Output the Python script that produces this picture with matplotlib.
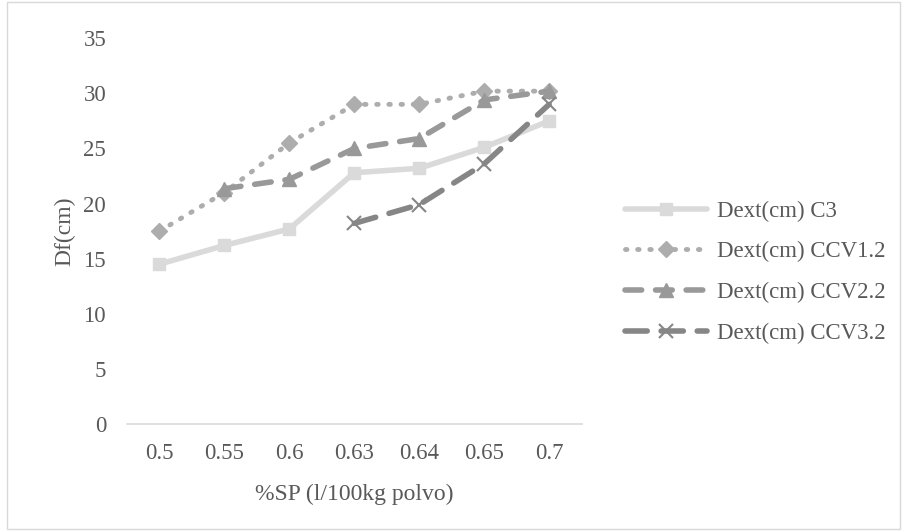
import matplotlib
matplotlib.use('Agg')
from matplotlib import pyplot as plt
from matplotlib.patches import Rectangle

# dados
categorias = ['0.5', '0.55', '0.6', '0.63', '0.64', '0.65', '0.7']
c3 = [14.5, 16.2, 17.7, 22.8, 23.2, 25.1, 27.5]
ccv12 = [17.5, 21.0, 25.5, 29.0, 29.0, 30.2, 30.2]
ccv22 = [None, 21.35, 22.2, 25.0, 25.9, 29.4, 30.2]
ccv32 = [None, None, None, 18.2, 19.9, 23.6, 29.0]
yticks = [0, 5, 10, 15, 20, 25, 30, 35]

plt.rcParams['font.family'] = ['Liberation Serif', 'DejaVu Serif']
txt = '#595959'

fig = plt.figure(figsize=(9.02, 5.31), dpi=100)
ax = fig.add_axes([0.1408, 0.2015, 0.504, 0.7265])

x = list(range(len(categorias)))

def serie(vals):
  # ignora pontos vazios
  xs = [i for i, v in zip(x, vals) if v is not None]
  ys = [v for v in vals if v is not None]
  return xs, ys

xs, ys = serie(c3)
ax.plot(xs, ys, color='#DADADA', lw=4, marker='s', ms=9, solid_capstyle='round', label='Dext(cm) C3')
xs, ys = serie(ccv12)
ax.plot(xs, ys, color='#ADADAD', lw=3.5, ls=(0, (0.3, 2.2)), dash_capstyle='round', marker='D', ms=8, label='Dext(cm) CCV1.2')
xs, ys = serie(ccv22)
ax.plot(xs, ys, color='#999999', lw=4, ls=(0, (3, 2.5)), dash_capstyle='round', marker='^', ms=10, label='Dext(cm) CCV2.2')
xs, ys = serie(ccv32)
ax.plot(xs, ys, color='#868686', lw=4, ls=(0, (4, 2.5)), dash_capstyle='round', marker='x', ms=10, mew=1.5, label='Dext(cm) CCV3.2')

ax.set_xlim(-0.5, len(categorias) - 0.5)
ax.set_ylim(0, 35)
ax.set_xticks(x)
ax.set_xticklabels(categorias)
ax.set_yticks(yticks)
ax.tick_params(axis='both', length=0, labelsize=16.5, labelcolor=txt)
ax.tick_params(axis='y', pad=15)
ax.tick_params(axis='x', pad=14)
for s in ['top', 'right', 'left']:
  ax.spines[s].set_visible(False)
ax.spines['bottom'].set_color('#D9D9D9')
ax.spines['bottom'].set_linewidth(1.2)

ax.set_xlabel('%SP (l/100kg polvo)', fontsize=17, color=txt, labelpad=14)
ax.set_ylabel('Df(cm)', fontsize=17, color=txt, labelpad=6)

leg = ax.legend(loc='center left', bbox_to_anchor=(1.05, 0.394), frameon=False, fontsize=16.5,
                labelcolor=txt, handlelength=3.6, labelspacing=0.85, handletextpad=0.4)

fig.patches.append(Rectangle((0.008, 0.003), 0.99, 0.994, transform=fig.transFigure,
                             fill=False, edgecolor='#D9D9D9', lw=1))

plt.savefig('out.png', dpi=100)
